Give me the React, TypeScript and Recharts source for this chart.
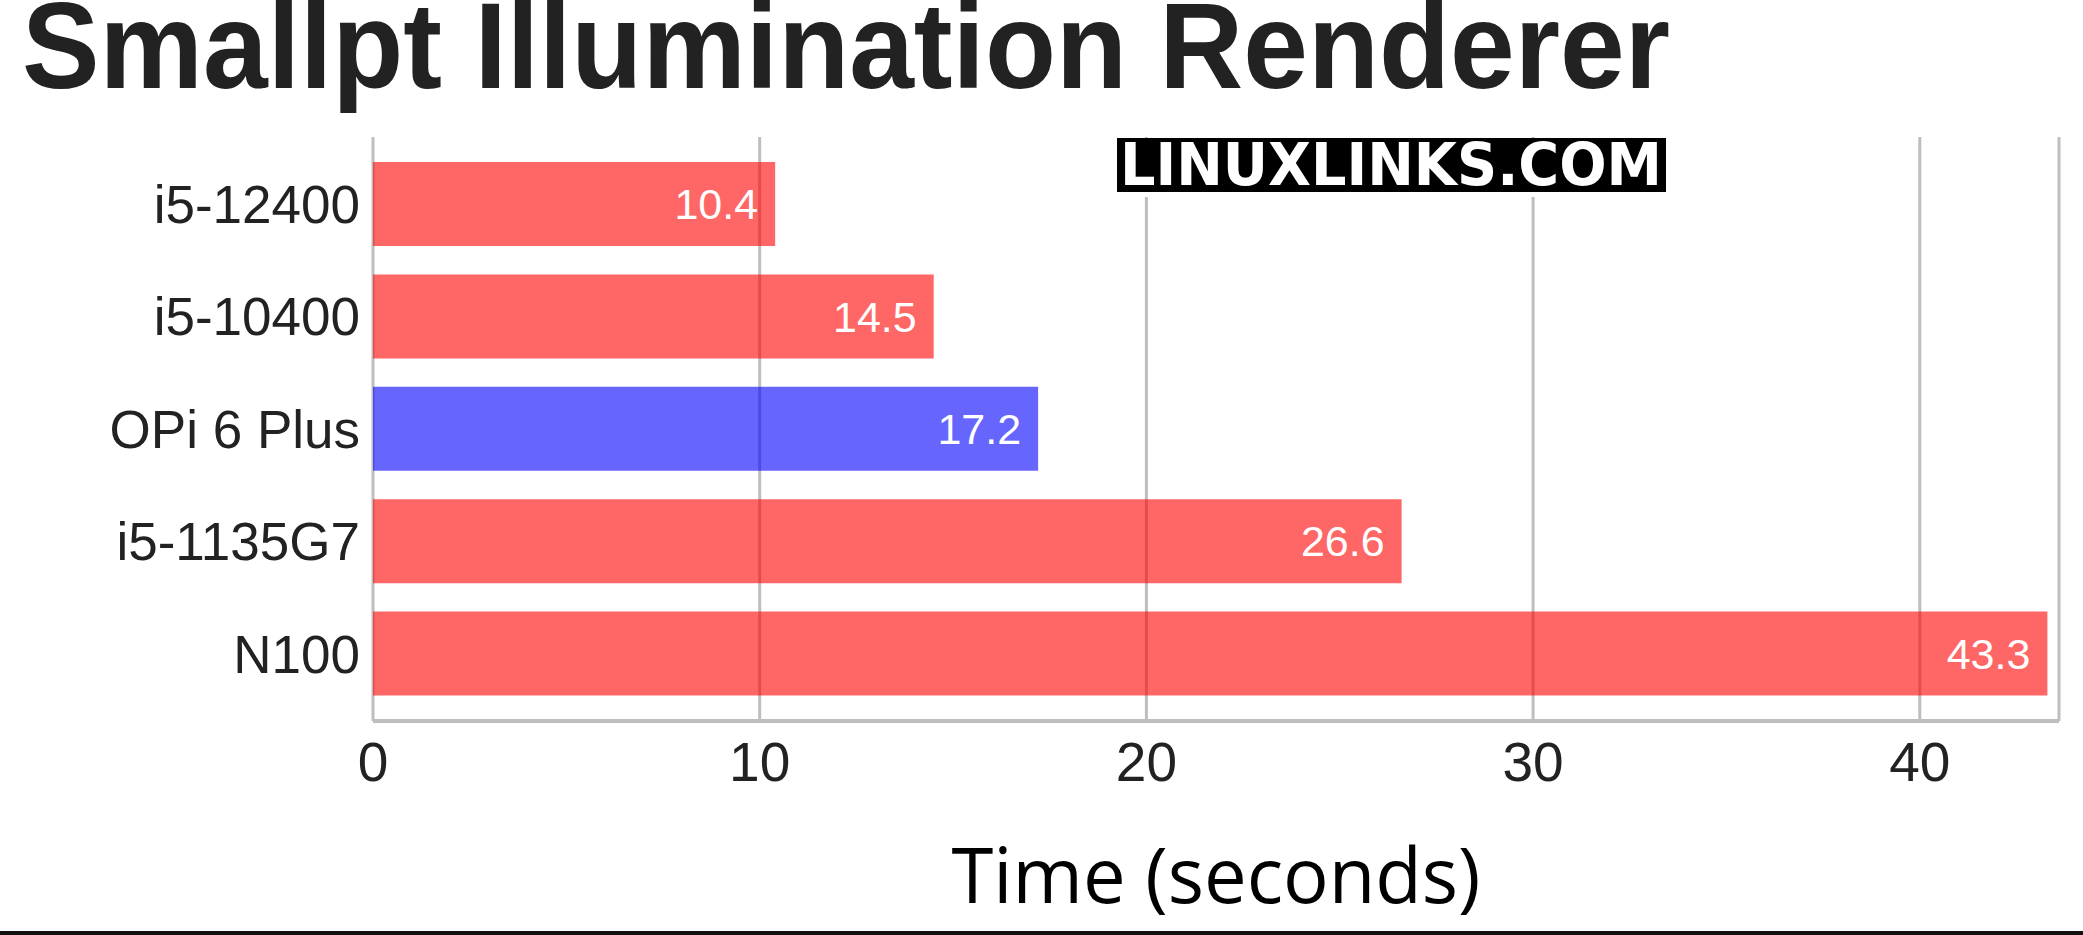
import { BarChart, Bar, XAxis, YAxis, CartesianGrid, Cell, LabelList } from 'recharts';

// Smallpt render time per CPU, lower is better
const cpus = ['i5-12400', 'i5-10400', 'OPi 6 Plus', 'i5-1135G7', 'N100'];
const seconds = [10.4, 14.5, 17.2, 26.6, 43.3];
const highlighted = 'OPi 6 Plus';
const timeTicks = [0, 10, 20, 30, 40];

const W = 2083;
const H = 935;
const GRID = '#bebebe';
const INK = '#222222';

export default function App() {
  const data = cpus.map((name, i) => ({ name, time: seconds[i] }));

  return (
    <div style={{ position: 'absolute', left: 0, top: 0, width: W, height: H, background: '#fff' }}>
      <BarChart
        width={W}
        height={H}
        data={data}
        layout="vertical"
        margin={{ top: 137, right: 24, left: 0, bottom: 0 }}
      >
        <CartesianGrid horizontal={false} stroke={GRID} strokeWidth={3} />
        <XAxis
          type="number"
          domain={[0, 43.6]}
          ticks={timeTicks}
          height={214}
          tickLine={false}
          tickSize={0}
          tickMargin={21}
          axisLine={{ stroke: GRID, strokeWidth: 4 }}
          tick={{ fill: INK, fontSize: 55, fontFamily: 'Liberation Sans' }}
          label={{
            value: 'Time (seconds)',
            position: 'insideBottom',
            offset: 32,
            fill: '#000',
            fontSize: 76,
            fontFamily: 'Open Sans',
          }}
        />
        <YAxis
          type="category"
          dataKey="name"
          width={373}
          padding={{ top: 11, bottom: 11 }}
          axisLine={false}
          tickLine={false}
          tickSize={0}
          tickMargin={13}
          tick={{ fill: INK, fontSize: 53, fontFamily: 'Liberation Sans' }}
        />
        <Bar dataKey="time" barSize={84} isAnimationActive={false}>
          {data.map((d) => (
            <Cell
              key={d.name}
              fill={d.name === highlighted ? '#0000ff' : '#ff0000'}
              fillOpacity={0.6}
            />
          ))}
          <LabelList
            dataKey="time"
            position="insideRight"
            offset={17}
            fill="#fff"
            fontSize={43}
            fontFamily="Liberation Sans"
          />
        </Bar>
      </BarChart>

      <svg
        width={W}
        height={H}
        style={{ position: 'absolute', left: 0, top: 0, pointerEvents: 'none' }}
      >
        <text
          x={22}
          y={88}
          fontSize={123}
          fontWeight="bold"
          fontFamily="Liberation Sans"
          fill={INK}
          textLength={1648}
          lengthAdjust="spacingAndGlyphs"
        >
          Smallpt Illumination Renderer
        </text>
        <rect x={1117} y={138} width={549} height={59} fill="#fff" />
        <rect x={1117} y={138} width={549} height={54} fill="#000" />
        <text
          x={1120}
          y={185}
          fontSize={58}
          fontWeight="bold"
          fontFamily="DejaVu Sans"
          fill="#fff"
          textLength={542}
          lengthAdjust="spacingAndGlyphs"
        >
          LINUXLINKS.COM
        </text>
        <rect x={0} y={931} width={W} height={4} fill="#111" />
      </svg>
    </div>
  );
}
